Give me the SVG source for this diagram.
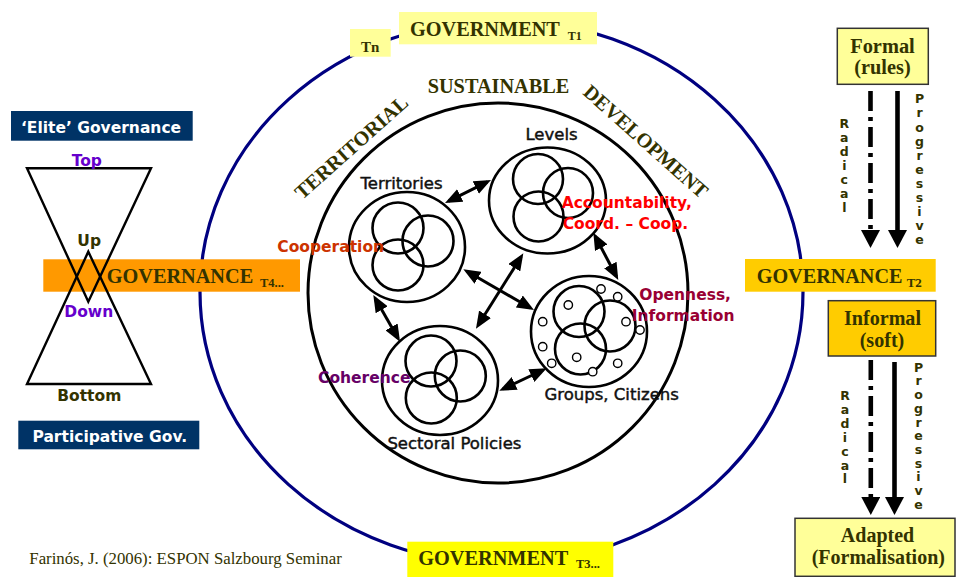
<svg xmlns="http://www.w3.org/2000/svg" width="956" height="577" viewBox="0 0 956 577">
<defs>
<style>
.serif{font-family:"Liberation Serif","Times New Roman",serif;font-weight:bold;fill:#333300}
.lbl{font-family:"DejaVu Sans",Verdana,sans-serif;font-size:16.5px;fill:#111;stroke:#111;stroke-width:0.45}
.bold{font-family:"DejaVu Sans",Verdana,sans-serif;font-weight:bold;font-size:15.5px}
.ring{fill:none;stroke:#000;stroke-width:2.6}
.dot{fill:#fff;stroke:#000;stroke-width:1.4}
.conn{stroke:#000;stroke-width:3;fill:none;marker-start:url(#ah);marker-end:url(#ah)}
.vline{stroke:#000;stroke-width:4.6;fill:none;marker-end:url(#vh)}
.vtxt{font-family:"DejaVu Sans",Verdana,sans-serif;font-weight:bold;font-size:12.5px;fill:#333300}
.box{stroke:#333;stroke-width:1.5}
</style>
<marker id="ah" viewBox="0 0 17 14" refX="13" refY="7" markerWidth="17" markerHeight="14" markerUnits="userSpaceOnUse" orient="auto-start-reverse">
<path d="M0,0 L17,7 L0,14 z" fill="#000"/>
</marker>
<marker id="vh" viewBox="0 0 18 19" refX="0" refY="9.5" markerWidth="18" markerHeight="19" markerUnits="userSpaceOnUse" orient="auto">
<path d="M0,0 L18,9.5 L0,19 z" fill="#000"/>
</marker>
</defs>
<rect width="956" height="577" fill="#fff"/>

<g id="government-ring">
<ellipse cx="501.5" cy="292" rx="301.5" ry="272" fill="none" stroke="#000080" stroke-width="3.2"/>
</g>
<g id="sustainable-development">
<circle cx="498" cy="293" r="190" fill="none" stroke="#000" stroke-width="3"/>
<text class="serif" font-size="20.3" x="498.5" y="93.3" text-anchor="middle">SUSTAINABLE</text>
<text class="serif" font-size="20.3" text-anchor="middle" transform="translate(355.9,152.4) rotate(-41.8)">TERRITORIAL</text>
<text class="serif" font-size="20.3" text-anchor="middle" transform="translate(641.3,146.6) rotate(41.6)">DEVELOPMENT</text>
</g>

<g id="territories">
<ellipse class="ring" cx="407" cy="247" rx="58" ry="55"/>
<circle class="ring" cx="398" cy="228" r="25.5"/>
<circle class="ring" cx="428" cy="241" r="25.5"/>
<circle class="ring" cx="398" cy="265" r="25.5"/>
<text class="lbl" x="401.5" y="189" text-anchor="middle">Territories</text>
</g>
<g id="levels">
<ellipse class="ring" cx="547.5" cy="200.5" rx="58.5" ry="53"/>
<circle class="ring" cx="538" cy="179" r="25"/>
<circle class="ring" cx="568" cy="193" r="25"/>
<circle class="ring" cx="538.5" cy="216.5" r="25"/>
<text class="lbl" x="551.5" y="140" text-anchor="middle">Levels</text>
</g>
<g id="groups-citizens">
<ellipse class="ring" cx="589" cy="331.5" rx="58" ry="55.5"/>
<circle class="ring" cx="579" cy="311.5" r="25.5"/>
<circle class="ring" cx="610" cy="326" r="25.5"/>
<circle class="ring" cx="580.5" cy="349" r="25.5"/>
<circle class="dot" cx="601" cy="289" r="4.2"/>
<circle class="dot" cx="617.7" cy="296.7" r="4.2"/>
<circle class="dot" cx="568.3" cy="305" r="4.2"/>
<circle class="dot" cx="542.7" cy="321.7" r="4.2"/>
<circle class="dot" cx="626" cy="321.7" r="4.2"/>
<circle class="dot" cx="640" cy="330" r="4.2"/>
<circle class="dot" cx="542.7" cy="346.7" r="4.2"/>
<circle class="dot" cx="576.7" cy="357.3" r="4.2"/>
<circle class="dot" cx="551.7" cy="363.3" r="4.2"/>
<circle class="dot" cx="617.7" cy="363.3" r="4.2"/>
<circle class="dot" cx="592.7" cy="371.7" r="4.2"/>
<text class="lbl" x="611.7" y="400" text-anchor="middle">Groups, Citizens</text>
</g>
<g id="sectoral-policies">
<ellipse class="ring" cx="440" cy="380.5" rx="58" ry="54.5"/>
<circle class="ring" cx="431" cy="361" r="25.5"/>
<circle class="ring" cx="460.3" cy="376" r="25.5"/>
<circle class="ring" cx="431.3" cy="398" r="25.5"/>
<text class="lbl" x="454.4" y="449" text-anchor="middle">Sectoral Policies</text>
</g>

<g id="connectors">
<line class="conn" x1="448.6" y1="201.2" x2="487.4" y2="181.8"/>
<line class="conn" x1="595.2" y1="236.2" x2="616.4" y2="276.5"/>
<line class="conn" x1="375.3" y1="298.5" x2="398" y2="338.2"/>
<line class="conn" x1="502.9" y1="389" x2="543.1" y2="370"/>
<line class="conn" x1="466.8" y1="271.3" x2="530.5" y2="308"/>
<line class="conn" x1="521.2" y1="256.7" x2="478.1" y2="325.3"/>
<line class="vline" x1="870.5" y1="91" x2="870.5" y2="230" stroke-dasharray="20 6 4 6"/>
<line class="vline" x1="897.5" y1="91" x2="897.5" y2="230"/>
<line class="vline" x1="870.8" y1="360" x2="870.8" y2="497" stroke-dasharray="20 6 4 6"/>
<line class="vline" x1="894.5" y1="362" x2="894.5" y2="497"/>
</g>

<g id="quality-labels">
<text class="bold" fill="#CC3300" x="277.3" y="251.7">Cooperation</text>
<text class="bold" fill="#660066" x="318" y="383.3">Coherence</text>
<text class="bold" fill="#FF0000" x="561.7" y="208.3">Accountability,</text>
<text class="bold" fill="#FF0000" x="562.7" y="229">Coord. – Coop.</text>
<text class="bold" fill="#990033" x="639.3" y="300">Openness,</text>
<text class="bold" fill="#990033" x="631.7" y="320.7">Information</text>
</g>

<g id="government-t1">
<rect x="399" y="12" width="198" height="32.3" fill="#FFFF99"/>
<text class="serif" font-size="20.3" x="410" y="35.7">GOVERNMENT</text>
<text class="serif" font-size="12" x="567.7" y="40">T1</text>
</g>
<g id="tn">
<rect x="350" y="29" width="40.7" height="27.7" fill="#FFFF99"/>
<text class="serif" font-size="15" x="370.3" y="52.3" text-anchor="middle">Tn</text>
</g>
<g id="government-t3">
<rect x="407.3" y="541.7" width="206" height="36" fill="#FFFF00"/>
<text class="serif" font-size="20.3" x="418.3" y="565">GOVERNMENT</text>
<text class="serif" font-size="12.5" x="576" y="568.3">T3...</text>
</g>

<g id="governance-t4">
<rect x="43.3" y="259.3" width="256.7" height="32.4" fill="#FF9900"/>
<text class="serif" font-size="20.3" x="106.7" y="283.3">GOVERNANCE</text>
<text class="serif" font-size="12.5" x="260" y="287.3">T4...</text>
</g>
<g id="hourglass">
<polygon points="27,168.3 151,168.3 88.3,301.7" fill="none" stroke="#000" stroke-width="2.4" stroke-linejoin="miter"/>
<polygon points="27,384 151,384 88.3,251.7" fill="none" stroke="#000" stroke-width="2.4" stroke-linejoin="miter"/>
<text class="bold" font-size="15.2" fill="#6600CC" x="86.8" y="166" text-anchor="middle">Top</text>
<text class="bold" font-size="14.5" fill="#333300" x="89.2" y="246" text-anchor="middle">Up</text>
<text class="bold" font-size="15.1" fill="#6600CC" x="88.8" y="317.3" text-anchor="middle">Down</text>
<text class="bold" font-size="14.5" fill="#333300" x="89.3" y="400.7" text-anchor="middle">Bottom</text>
</g>
<g id="elite-governance">
<rect x="11" y="111" width="181.7" height="29.7" fill="#003366"/>
<text class="bold" font-size="15.3" fill="#fff" x="101" y="133.3" text-anchor="middle">‘Elite’ Governance</text>
</g>
<g id="participative-gov">
<rect x="18.3" y="420.7" width="181" height="28.6" fill="#003366"/>
<text class="bold" font-size="15.4" fill="#fff" x="109.8" y="441.7" text-anchor="middle">Participative Gov.</text>
</g>

<g id="formal-rules">
<rect class="box" x="837.3" y="28.3" width="91" height="56" fill="#FFFF99"/>
<text class="serif" font-size="20.4" x="882.5" y="52.7" text-anchor="middle">Formal</text>
<text class="serif" font-size="20.3" x="882.5" y="73.5" text-anchor="middle">(rules)</text>
</g>
<g id="governance-t2">
<rect x="745" y="259" width="190.7" height="32.7" fill="#FFCC00"/>
<text class="serif" font-size="20.2" x="756.7" y="283.3">GOVERNANCE</text>
<text class="serif" font-size="13" x="906.7" y="287.3">T2</text>
</g>
<g id="informal-soft">
<rect class="box" x="828.3" y="300.7" width="107.4" height="55.3" fill="#FFCC00"/>
<text class="serif" font-size="20.1" x="882.5" y="325" text-anchor="middle">Informal</text>
<text class="serif" font-size="20.1" x="882" y="346.5" text-anchor="middle">(soft)</text>
</g>
<g id="adapted-formalisation">
<rect class="box" x="795" y="518.3" width="160" height="58" fill="#FFFF99"/>
<text class="serif" font-size="20" x="877.5" y="541.7" text-anchor="middle">Adapted</text>
<text class="serif" font-size="20" x="878.3" y="564" text-anchor="middle">(Formalisation)</text>
</g>

<g id="path-labels">
<text class="vtxt" text-anchor="middle"><tspan x="844.3" y="127.7">R</tspan><tspan x="844.3" y="141.7">a</tspan><tspan x="844.3" y="155.7">d</tspan><tspan x="844.3" y="169.7">i</tspan><tspan x="844.3" y="183.7">c</tspan><tspan x="844.3" y="197.7">a</tspan><tspan x="844.3" y="211.7">l</tspan></text>
<text class="vtxt" text-anchor="middle"><tspan x="919.5" y="103.3">P</tspan><tspan x="919.5" y="117.4">r</tspan><tspan x="919.5" y="131.5">o</tspan><tspan x="919.5" y="145.6">g</tspan><tspan x="919.5" y="159.7">r</tspan><tspan x="919.5" y="173.8">e</tspan><tspan x="919.5" y="187.9">s</tspan><tspan x="919.5" y="202">s</tspan><tspan x="919.5" y="216.1">i</tspan><tspan x="919.5" y="230.2">v</tspan><tspan x="919.5" y="244.3">e</tspan></text>
<text class="vtxt" text-anchor="middle"><tspan x="845" y="400">R</tspan><tspan x="845" y="413.9">a</tspan><tspan x="845" y="427.8">d</tspan><tspan x="845" y="441.7">i</tspan><tspan x="845" y="455.6">c</tspan><tspan x="845" y="469.5">a</tspan><tspan x="845" y="483.4">l</tspan></text>
<text class="vtxt" text-anchor="middle"><tspan x="918.5" y="371.7">P</tspan><tspan x="918.5" y="385.4">r</tspan><tspan x="918.5" y="399.1">o</tspan><tspan x="918.5" y="412.8">g</tspan><tspan x="918.5" y="426.5">r</tspan><tspan x="918.5" y="440.2">e</tspan><tspan x="918.5" y="453.9">s</tspan><tspan x="918.5" y="467.6">s</tspan><tspan x="918.5" y="481.3">i</tspan><tspan x="918.5" y="495">v</tspan><tspan x="918.5" y="508.7">e</tspan></text>
</g>

<g id="citation">
<text font-family="'Liberation Serif','Times New Roman',serif" font-size="16.8" fill="#333300" x="29.3" y="564">Farinós, J. (2006): ESPON Salzbourg Seminar</text>
</g>
</svg>
